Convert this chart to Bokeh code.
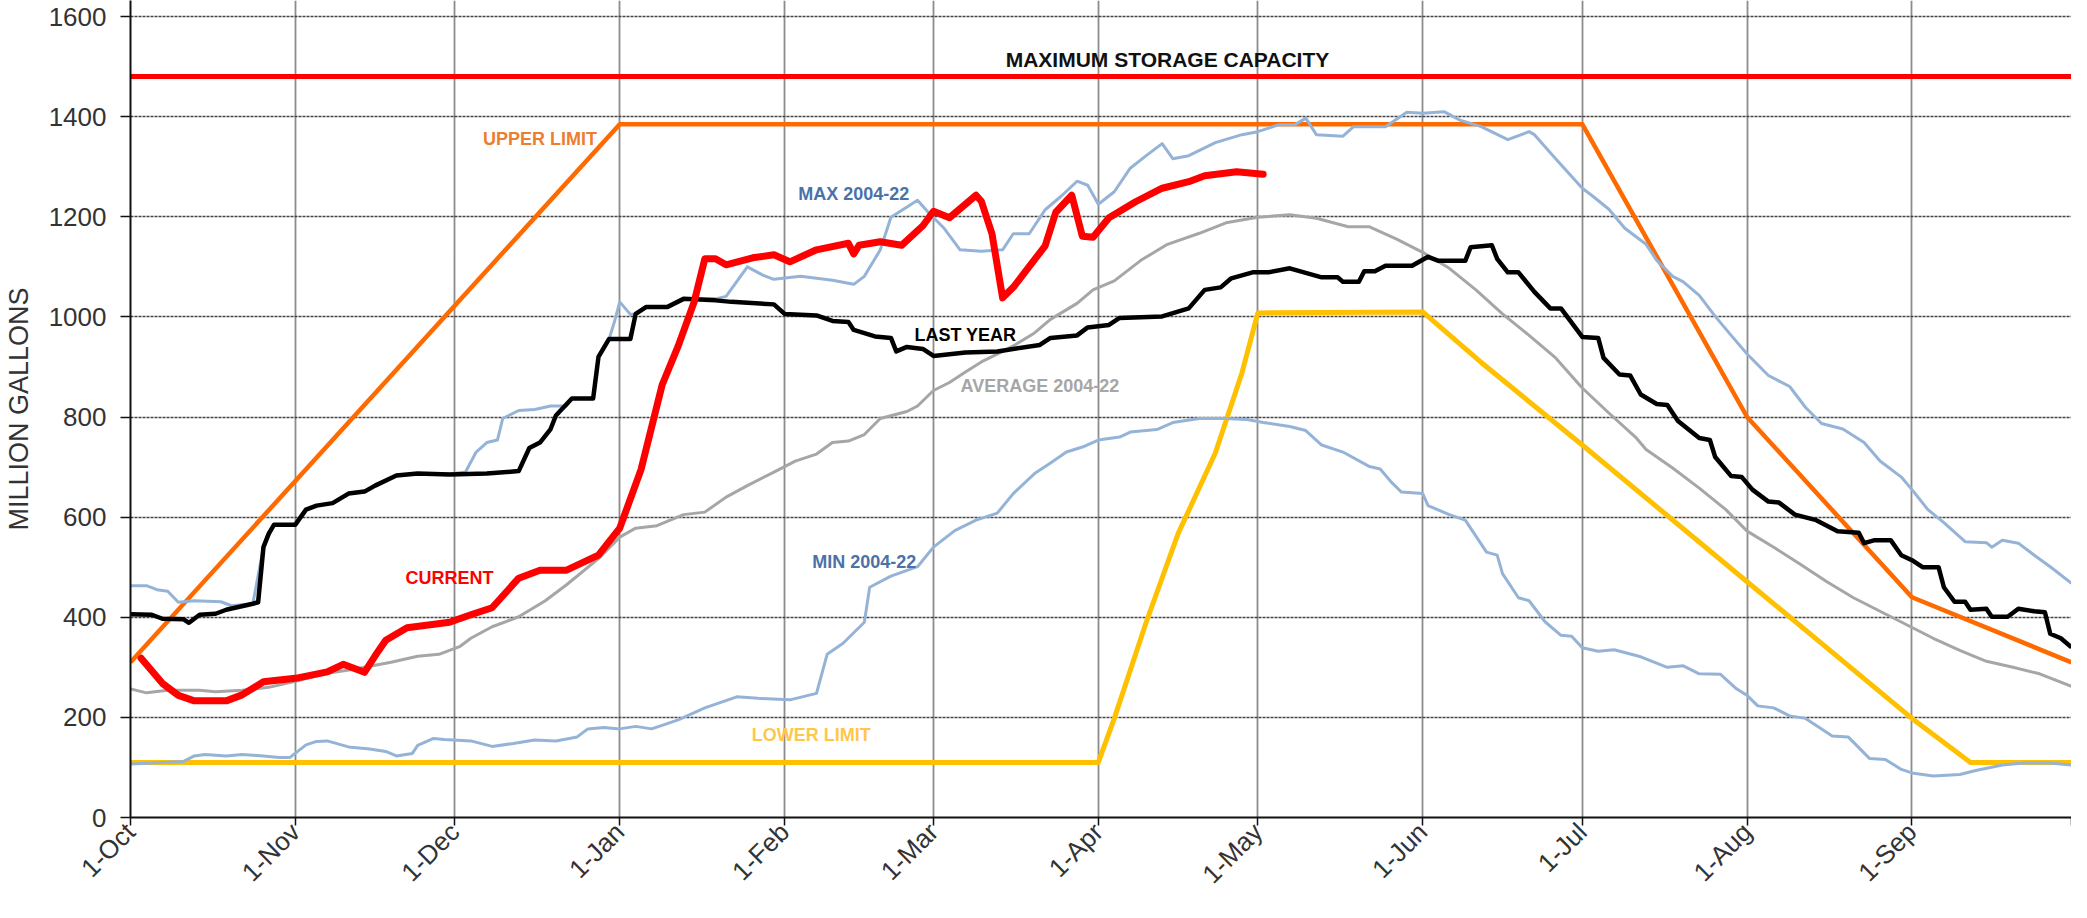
import math
from bokeh.plotting import figure
from bokeh.models import Range1d, FixedTicker
from bokeh.core.properties import value
from bokeh.embed import file_html
from bokeh.resources import INLINE

# ---- axis data (day of water year, Oct 1 = 0) ----
month_days = [0, 31, 61, 92, 123, 151, 182, 212, 243, 273, 304, 335, 365]
month_labels = ["1-Oct", "1-Nov", "1-Dec", "1-Jan", "1-Feb", "1-Mar", "1-Apr",
                "1-May", "1-Jun", "1-Jul", "1-Aug", "1-Sep", ""]
y_ticks = [0, 200, 400, 600, 800, 1000, 1200, 1400, 1600]

# ---- series ----
capacity_days = [0, 365]
capacity_vals = [1480, 1480]

upper_days = [0, 92, 273, 304, 335, 365]
upper_vals = [310, 1385, 1385, 800, 440, 310]

lower_days = [0, 182, 185, 191, 197, 204, 209, 212, 243, 254, 273, 304, 335, 346, 365]
lower_vals = [110, 110, 198, 390, 567, 728, 888, 1008, 1010, 909, 744, 471, 198, 110, 110]

current_days = [2, 6, 9, 12, 18, 21, 25, 31, 37, 40, 44, 46, 48, 52, 60, 64, 68, 73, 77, 82,
                88, 92, 96, 100, 103, 106, 108, 110, 112, 117, 121, 124, 129, 135, 136, 137,
                141, 145, 149, 151, 154, 159, 160, 162, 164, 166, 172, 174, 177, 179, 181,
                184, 189, 194, 199, 202, 208, 213]
current_vals = [318, 268, 244, 233, 233, 245, 271, 278, 291, 306, 290, 323, 354, 379, 390, 405,
                419, 478, 494, 494, 524, 578, 695, 865, 942, 1030, 1116, 1116, 1104, 1118,
                1124, 1110, 1134, 1147, 1126, 1143, 1150, 1143, 1182, 1211, 1198, 1243, 1231,
                1166, 1038, 1059, 1142, 1209, 1243, 1161, 1159, 1198, 1230, 1257, 1270, 1282,
                1290, 1285]

last_days = [0, 4, 6, 10, 11, 13, 16, 18, 23, 24, 25, 26, 27, 31, 33, 35, 38, 41, 44, 46, 50,
             54, 60, 67, 73, 75, 77, 79, 80, 83, 87, 88, 90, 94, 95, 97, 101, 104, 110, 113,
             121, 123, 129, 132, 135, 136, 140, 143, 144, 146, 149, 151, 157, 163, 171, 173,
             178, 180, 184, 186, 194, 199, 202, 205, 207, 211, 214, 218, 221, 224, 227, 228,
             231, 232, 234, 236, 241, 244, 246, 251, 252, 256, 257, 259, 261, 264, 267, 269,
             273, 276, 277, 280, 282, 284, 287, 289, 291, 295, 297, 298, 301, 303, 305, 308,
             310, 313, 317, 321, 325, 326, 328, 331, 333, 335, 337, 340, 341, 343, 345, 346,
             349, 350, 353, 355, 358, 360, 361, 363, 365]
last_vals = [406, 405, 397, 396, 389, 405, 407, 415, 427, 430, 540, 567, 585, 585, 615, 623,
             628, 647, 651, 663, 683, 687, 685, 687, 692, 738, 749, 776, 803, 837, 837, 920,
             956, 956, 1006, 1020, 1020, 1036, 1033, 1030, 1025, 1006, 1003, 992, 990, 974,
             961, 958, 931, 940, 936, 922, 929, 931, 944, 958, 963, 979, 984, 998, 1001, 1017,
             1054, 1059, 1077, 1089, 1089, 1097, 1088, 1079, 1079, 1070, 1070, 1091, 1091,
             1102, 1102, 1120, 1112, 1112, 1139, 1143, 1116, 1089, 1089, 1050, 1017, 1017, 960,
             958, 918, 885, 883, 845, 826, 824, 792, 758, 754, 720, 682, 680, 655, 631, 629,
             605, 594, 572, 569, 548, 554, 554, 524, 514, 500, 500, 460, 431, 431, 415, 417,
             401, 401, 417, 412, 410, 367, 358, 340]

max_days = [0, 3, 5, 7, 9, 12, 17, 19, 23, 25, 27, 31, 33, 35, 38, 41, 44, 46, 50, 54, 60, 63,
            65, 67, 69, 70, 73, 76, 79, 82, 83, 87, 88, 90, 91, 92, 94, 95, 97, 101, 104, 110,
            112, 116, 119, 121, 126, 132, 136, 138, 141, 143, 148, 150, 153, 156, 160, 164,
            166, 169, 172, 175, 178, 180, 182, 185, 188, 191, 194, 196, 199, 204, 209, 212,
            216, 219, 221, 223, 228, 230, 236, 240, 243, 247, 250, 254, 259, 263, 264, 268,
            273, 275, 278, 281, 285, 287, 290, 292, 295, 298, 301, 304, 308, 312, 315, 318,
            322, 326, 329, 333, 335, 338, 341, 345, 349, 350, 352, 355, 358, 361, 365]
max_vals = [463, 463, 455, 452, 430, 433, 431, 423, 427, 540, 585, 585, 615, 623, 628, 647,
            651, 663, 683, 687, 686, 690, 730, 749, 754, 797, 813, 815, 822, 822, 837, 837,
            920, 956, 990, 1030, 1005, 1006, 1020, 1020, 1036, 1036, 1041, 1100, 1083, 1075,
            1081, 1073, 1065, 1081, 1134, 1199, 1233, 1209, 1177, 1134, 1131, 1134, 1166,
            1166, 1214, 1241, 1271, 1263, 1225, 1250, 1297, 1322, 1346, 1316, 1322, 1348,
            1364, 1370, 1384, 1384, 1397, 1364, 1361, 1380, 1380, 1409, 1407, 1410, 1393,
            1380, 1354, 1370, 1364, 1316, 1257, 1241, 1215, 1177, 1145, 1113, 1081, 1070,
            1043, 1001, 963, 926, 883, 861, 819, 787, 776, 749, 712, 680, 655, 615, 589, 551,
            549, 540, 554, 548, 524, 501, 468]

min_days = [0, 4, 10, 12, 14, 18, 21, 25, 28, 30, 33, 35, 37, 41, 45, 48, 50, 53, 54, 57, 59,
            64, 68, 72, 76, 80, 84, 86, 89, 92, 95, 98, 103, 108, 114, 118, 124, 129, 131, 134,
            138, 139, 143, 148, 151, 155, 159, 163, 166, 170, 173, 176, 179, 182, 186, 188,
            193, 196, 201, 206, 210, 213, 218, 221, 224, 228, 233, 235, 237, 239, 243, 244,
            248, 251, 255, 257, 258, 261, 263, 266, 269, 271, 273, 276, 279, 284, 289, 292,
            295, 299, 302, 304, 306, 309, 312, 315, 320, 323, 327, 330, 333, 335, 339, 344,
            347, 352, 356, 361, 365]
min_vals = [107, 109, 112, 123, 126, 123, 126, 123, 120, 120, 145, 152, 153, 141, 137, 132,
            123, 128, 144, 158, 156, 153, 142, 148, 155, 153, 161, 177, 180, 177, 182, 177,
            195, 219, 241, 238, 235, 248, 326, 348, 390, 460, 482, 501, 540, 573, 594, 608,
            647, 687, 708, 730, 740, 754, 760, 770, 775, 789, 797, 797, 795, 789, 781, 773,
            744, 730, 701, 696, 671, 650, 647, 623, 605, 594, 530, 524, 487, 439, 433, 391,
            364, 362, 339, 332, 335, 321, 300, 303, 287, 286, 257, 244, 223, 219, 203, 198,
            163, 161, 118, 116, 96, 89, 83, 86, 94, 105, 109, 109, 105]

avg_days = [0, 3, 7, 13, 16, 21, 26, 31, 37, 42, 45, 49, 54, 58, 62, 64, 68, 73, 78, 82, 88,
            92, 95, 99, 104, 108, 112, 116, 121, 125, 129, 132, 135, 138, 141, 146, 148, 151,
            154, 157, 160, 164, 166, 170, 173, 178, 181, 185, 190, 195, 201, 206, 212, 218,
            223, 229, 233, 238, 243, 248, 253, 258, 263, 268, 273, 278, 283, 285, 290, 295,
            300, 304, 309, 314, 319, 324, 329, 334, 339, 344, 349, 354, 359, 365]
avg_vals = [257, 249, 254, 254, 251, 254, 260, 272, 288, 296, 302, 310, 322, 326, 342, 358,
            381, 401, 433, 465, 517, 560, 578, 583, 605, 610, 640, 663, 690, 712, 726, 749,
            752, 765, 797, 811, 822, 853, 869, 890, 910, 931, 942, 968, 995, 1027, 1054, 1072,
            1113, 1145, 1167, 1188, 1199, 1204, 1197, 1180, 1180, 1156, 1129, 1097, 1054,
            1006, 963, 918, 858, 808, 760, 735, 698, 658, 615, 572, 540, 506, 471, 439, 412,
            385, 358, 334, 312, 300, 287, 262]

# ---- annotation labels ----
label_texts = ["UPPER LIMIT", "MAX 2004-22", "LAST YEAR", "AVERAGE 2004-22",
               "MIN 2004-22", "LOWER LIMIT", "CURRENT"]
label_days = [77, 136, 157, 171, 138, 128, 60]
label_vals = [1355, 1246, 964, 861, 510, 164, 478]
label_colors = ["#ED7D31", "#4A72A8", "#000000", "#A6A6A6", "#4A72A8", "#FFC748", "#FF0000"]
capacity_label = "MAXIMUM STORAGE CAPACITY"
capacity_label_day = 195
capacity_label_val = 1515

FONT = "Liberation Sans"

p = figure(width=2071, height=902, output_backend="svg", toolbar_location=None,
           x_range=Range1d(0, 365), y_range=Range1d(0, 1632),
           min_border_left=126, min_border_right=0, min_border_top=0,
           min_border_bottom=70)
p.outline_line_color = None
p.background_fill_color = "white"
p.border_fill_color = "white"

# axes
p.xaxis.ticker = FixedTicker(ticks=month_days)
p.xaxis.major_label_overrides = {d: l for d, l in zip(month_days, month_labels)}
p.xaxis.major_label_orientation = math.pi / 4
p.yaxis.ticker = FixedTicker(ticks=y_ticks)
for ax in (p.xaxis, p.yaxis):
    ax.major_label_text_font = FONT
    ax.major_label_text_font_size = "26px"
    ax.major_label_text_color = "#333333"
    ax.axis_line_color = "#111111"
    ax.axis_line_width = 2
    ax.major_tick_line_color = "#111111"
    ax.major_tick_line_width = 1.5
    ax.major_tick_in = 0
    ax.minor_tick_line_color = None
p.xaxis.major_tick_out = 8
p.xaxis.major_label_standoff = 2
p.xaxis.major_label_text_line_height = 0.8
p.yaxis.major_tick_out = 10
p.yaxis.major_label_standoff = 14
p.yaxis.axis_label = "MILLION GALLONS"
p.yaxis.axis_label_text_font = FONT
p.yaxis.axis_label_text_font_size = "27px"
p.yaxis.axis_label_text_font_style = "normal"
p.yaxis.axis_label_text_color = "#333333"
p.yaxis.axis_label_standoff = 12

# grids
p.xgrid.grid_line_color = "#8C8C8C"
p.xgrid.grid_line_width = 1.8
p.ygrid.grid_line_color = "#444444"
p.ygrid.grid_line_width = 1.3
p.ygrid.grid_line_dash = "3 1"

# series
p.line(capacity_days, capacity_vals, line_color="#FF0000", line_width=5)
p.line(upper_days, upper_vals, line_color="#FF6A00", line_width=4.5, line_join="round")
p.line(lower_days, lower_vals, line_color="#FFC000", line_width=5, line_join="round")
p.line(avg_days, avg_vals, line_color="#A6A6A6", line_width=3, line_join="round")
p.line(min_days, min_vals, line_color="#95B3D7", line_width=3, line_join="round")
p.line(max_days, max_vals, line_color="#95B3D7", line_width=3, line_join="round")
p.line(last_days, last_vals, line_color="#000000", line_width=4.5, line_join="round")
p.line(current_days, current_vals, line_color="#FF0000", line_width=7, line_join="round",
       line_cap="round")

# labels
p.text(x=label_days, y=label_vals, text=label_texts, text_color=label_colors,
       text_font=value(FONT), text_font_style="bold", text_font_size="18px",
       text_align="center", text_baseline="middle")
p.text(x=[capacity_label_day], y=[capacity_label_val], text=[capacity_label],
       text_color="#111111", text_font=value(FONT), text_font_style="bold",
       text_font_size="21px", text_align="center", text_baseline="middle")

open("out.html", "w").write(file_html(p, INLINE))
